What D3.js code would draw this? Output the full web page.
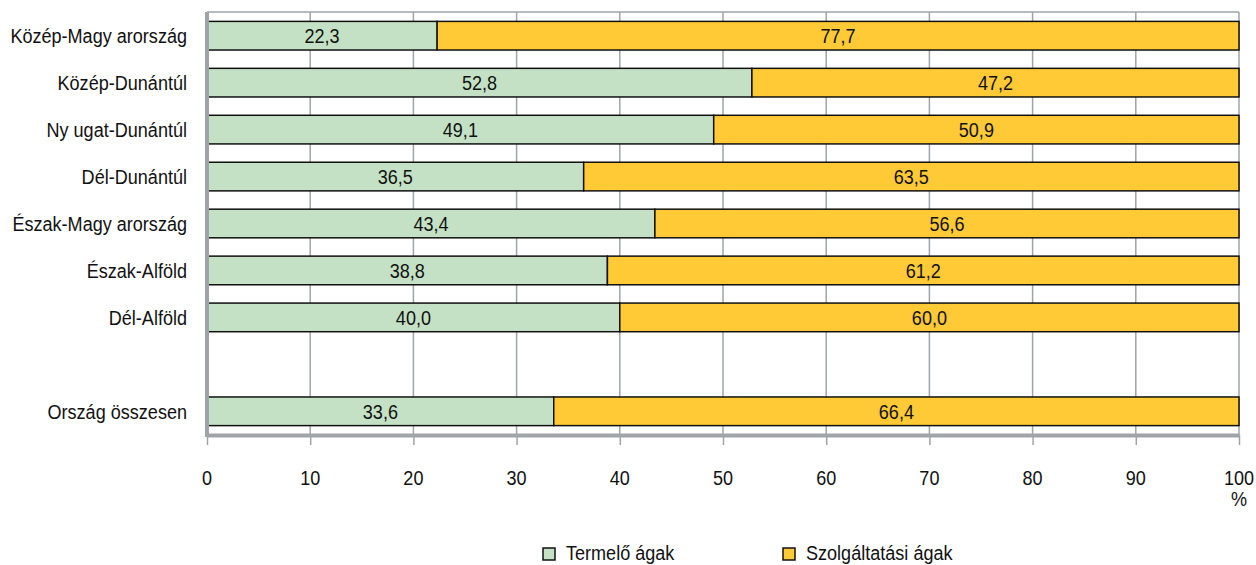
<!DOCTYPE html>
<html>
  <head>
    <meta charset="utf-8" />
    <style>
      body { margin: 0; background: #fff; }
      text { font-family: "Liberation Sans", Arial, sans-serif; }
    </style>
  </head>
  <body>
    <div id="plot"></div>
    <script src="https://d3js.org/d3.v7.min.js"></script>
    <script>
      // data
      const regions = [
        "Közép-Magy arország",
        "Közép-Dunántúl",
        "Ny ugat-Dunántúl",
        "Dél-Dunántúl",
        "Észak-Magy arország",
        "Észak-Alföld",
        "Dél-Alföld",
        "",
        "Ország összesen"
      ];
      const termelo = [22.3, 52.8, 49.1, 36.5, 43.4, 38.8, 40.0, null, 33.6];
      const szolg = [77.7, 47.2, 50.9, 63.5, 56.6, 61.2, 60.0, null, 66.4];
      const seriesNames = ["Termelő ágak", "Szolgáltatási ágak"];
      const colors = ["#c5e1c5", "#ffca35"];
      const xTicks = [0, 10, 20, 30, 40, 50, 60, 70, 80, 90, 100];

      const width = 1256, height = 565;
      const fontSize = 21;
      const squeeze = 0.86; // the original uses a narrow font
      const plotTop = 12, plotBottom = 435, plotLeft = 207, plotRight = 1239;
      const grey = "#a0a4a8";

      const svg = d3.select("#plot").append("svg")
        .attr("width", width)
        .attr("height", height);

      // narrow text placed at (px, py)
      function label(parent, px, py, str, anchor) {
        return parent.append("text")
          .attr("transform", `translate(${px},${py}) scale(${squeeze},1)`)
          .attr("dy", "0.35em")
          .attr("text-anchor", anchor)
          .attr("font-size", fontSize)
          .attr("fill", "#111")
          .text(str);
      }

      const x = d3.scaleLinear()
        .domain([0, 100])
        .range([plotLeft, plotRight]);

      const y = d3.scaleBand()
        .domain(d3.range(regions.length))
        .range([plotTop, plotBottom])
        .paddingInner(0.39)
        .paddingOuter(0.2);

      // grid lines
      svg.append("g")
        .selectAll("line")
        .data(xTicks.slice(1))
        .join("line")
        .attr("x1", d => x(d)).attr("x2", d => x(d))
        .attr("y1", plotTop).attr("y2", plotBottom)
        .attr("stroke", grey)
        .attr("stroke-width", 1.5);

      // top border
      svg.append("line")
        .attr("x1", x(0)).attr("x2", x(100))
        .attr("y1", plotTop).attr("y2", plotTop)
        .attr("stroke", grey).attr("stroke-width", 1.5);

      // bars
      const rows = regions.map((r, i) => ({ i, a: termelo[i], b: szolg[i] }))
        .filter(d => d.a != null);

      const g = svg.append("g");
      rows.forEach(d => {
        const segs = [
          { x0: 0, x1: d.a, v: d.a, c: colors[0] },
          { x0: d.a, x1: d.a + d.b, v: d.b, c: colors[1] }
        ];
        segs.forEach(s => {
          g.append("rect")
            .attr("x", x(s.x0))
            .attr("y", y(d.i))
            .attr("width", x(s.x1) - x(s.x0))
            .attr("height", y.bandwidth())
            .attr("fill", s.c)
            .attr("stroke", "#111")
            .attr("stroke-width", 1.5);
          label(g, (x(s.x0) + x(s.x1)) / 2, y(d.i) + y.bandwidth() / 2,
            d3.format(".1f")(s.v).replace(".", ","), "middle");
        });
      });

      // category labels
      const cats = svg.append("g");
      regions.forEach((r, i) => {
        if (r) label(cats, 187, y(i) + y.bandwidth() / 2, r, "end");
      });

      // bottom axis
      const xAxis = svg.append("g")
        .attr("transform", `translate(0,${plotBottom})`)
        .call(d3.axisBottom(x).tickValues(xTicks).tickSize(10).tickFormat("").tickSizeOuter(0));
      xAxis.select(".domain").attr("stroke", grey).attr("stroke-width", 4);
      xAxis.selectAll(".tick line").attr("stroke", grey).attr("stroke-width", 1.5);

      const tickLabels = svg.append("g");
      xTicks.forEach(t => label(tickLabels, x(t), 478, String(t), "middle"));

      // left axis line
      svg.append("line")
        .attr("x1", x(0)).attr("x2", x(0))
        .attr("y1", plotTop).attr("y2", plotBottom + 2)
        .attr("stroke", grey).attr("stroke-width", 4);

      label(svg, x(100), 499, "%", "middle");

      // legend
      const legend = svg.append("g");
      const legX = [543, 783];
      seriesNames.forEach((name, k) => {
        legend.append("rect")
          .attr("x", legX[k]).attr("y", 548)
          .attr("width", 12).attr("height", 12)
          .attr("fill", colors[k])
          .attr("stroke", "#111").attr("stroke-width", 1.5);
        label(legend, legX[k] + 23, 553, name, "start");
      });
    </script>
  </body>
</html>
